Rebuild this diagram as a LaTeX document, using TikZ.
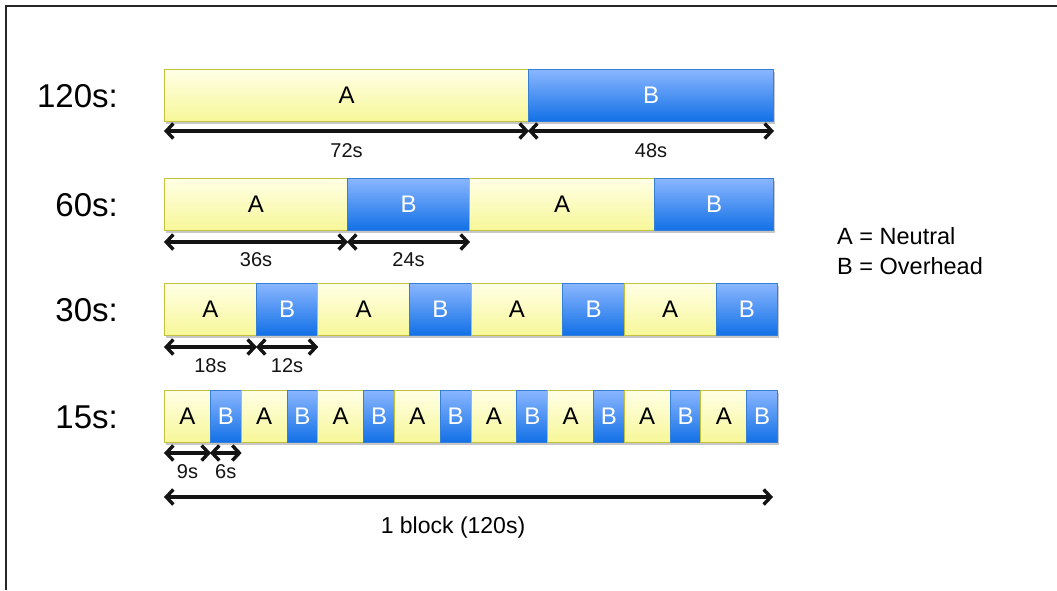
\documentclass[tikz,border=0pt]{standalone}
\usepackage{fontspec}
\setmainfont{Liberation Sans}
\usetikzlibrary{arrows.meta,shadows}
\definecolor{ytop}{HTML}{FFFFE6}
\definecolor{ybot}{HTML}{F7F798}
\definecolor{yedge}{HTML}{C2C23E}
\definecolor{btop}{HTML}{8AB6FF}
\definecolor{bbot}{HTML}{1170E6}
\definecolor{bedge}{HTML}{3580D6}
\newcommand{\mkseg}[6]{%
  \pgfmathsetmacro{\segw}{#4-#3}%
  \node[#2, minimum width=\segw pt, anchor=north west] (#1) at (#3,#5) {#6};}
\begin{document}
\begin{tikzpicture}[x=1pt,y=-1pt,
  seg/.style={rectangle, inner sep=0pt, minimum height=52pt, font=\fontsize{24}{27}\selectfont,
    drop shadow={shadow xshift=1.5pt, shadow yshift=-2pt, opacity=0.22, fill=black}},
  aseg/.style={seg, top color=ytop, bottom color=ybot, draw=yedge, line width=1pt, text=black},
  bseg/.style={seg, top color=btop, bottom color=bbot, draw=bedge, line width=1pt, text=white},
  rowlab/.style={anchor=east, inner sep=0pt, font=\fontsize{33}{37}\selectfont},
  dim/.style={line width=3.4pt, {Straight Barb[length=7pt,width=15pt,line width=3.4pt]}-{Straight Barb[length=7pt,width=15pt,line width=3.4pt]}, black!92},
  dimlab/.style={anchor=base, inner sep=0pt, font=\fontsize{20}{24}\selectfont},
  legend/.style={anchor=west, inner sep=0pt, font=\fontsize{23.5}{28}\selectfont}
]
\useasboundingbox (0,0) rectangle (1057,590);
\fill[white] (0,0) rectangle (1057,590);
\draw[line width=2pt, black!85] (6,590) -- (6,6) -- (1057,6);

% row labels
\node[rowlab] (l120) at (118,96) {120s:};
\node[rowlab] (l60)  at (118,205) {60s:};
\node[rowlab] (l30)  at (118,310) {30s:};
\node[rowlab] (l15)  at (118,417) {15s:};

% 120s row
\mkseg{r1a}{aseg}{164}{528}{69}{A}
\mkseg{r1b}{bseg}{528}{773}{69}{B}

% 60s row
\mkseg{r2a}{aseg}{164}{347}{178}{A}
\mkseg{r2b}{bseg}{347}{469}{178}{B}
\mkseg{r2c}{aseg}{469}{654}{178}{A}
\mkseg{r2d}{bseg}{654}{773}{178}{B}

% 30s row
\foreach \i in {0,...,3}{
  \pgfmathsetmacro{\xa}{164+\i*153.25}
  \pgfmathsetmacro{\xb}{\xa+91.95}
  \pgfmathsetmacro{\xc}{\xa+153.25}
  \mkseg{r3a\i}{aseg}{\xa}{\xb}{283}{A}
  \mkseg{r3b\i}{bseg}{\xb}{\xc}{283}{B}
}

% 15s row
\foreach \i in {0,...,7}{
  \pgfmathsetmacro{\xa}{164+\i*76.625}
  \pgfmathsetmacro{\xb}{\xa+45.975}
  \pgfmathsetmacro{\xc}{\xa+76.625}
  \mkseg{r4a\i}{aseg}{\xa}{\xb}{390}{A}
  \mkseg{r4b\i}{bseg}{\xb}{\xc}{390}{B}
}

% dimension arrows
\draw[dim] ([yshift=-9pt]r1a.south west) -- ([yshift=-9pt]r1a.south east)
  node[dimlab, midway, yshift=-26pt] (d72) {72s};
\draw[dim] ([yshift=-9pt]r1b.south west) -- ([yshift=-9pt]r1b.south east)
  node[dimlab, midway, yshift=-26pt] (d48) {48s};
\draw[dim] ([yshift=-11pt]r2a.south west) -- ([yshift=-11pt]r2a.south east)
  node[dimlab, midway, yshift=-24pt] (d36) {36s};
\draw[dim] ([yshift=-11pt]r2b.south west) -- ([yshift=-11pt]r2b.south east)
  node[dimlab, midway, yshift=-24pt] (d24) {24s};
\draw[dim] ([yshift=-11pt]r3a0.south west) -- ([yshift=-11pt]r3a0.south east)
  node[dimlab, midway, yshift=-25pt] (d18) {18s};
\draw[dim] ([yshift=-11pt]r3b0.south west) -- ([yshift=-11pt]r3b0.south east)
  node[dimlab, midway, yshift=-25pt] (d12) {12s};
\draw[dim] ([yshift=-10pt]r4a0.south west) -- ([yshift=-10pt]r4a0.south east)
  node[dimlab, midway, yshift=-25pt] (d9) {9s};
\draw[dim] ([yshift=-10pt]r4b0.south west) -- ([yshift=-10pt]r4b0.south east)
  node[dimlab, midway, yshift=-25pt] (d6) {6s};

% block arrow
\coordinate (bl) at (164,497);
\coordinate (br) at (773,497);
\draw[dim] (bl) -- (br);
\node[anchor=base, inner sep=0pt, font=\fontsize{23}{26}\selectfont] (blk) at (453,533) {1 block (120s)};

% legend
\node[legend] (legA) at (837,236) {A = Neutral};
\node[legend] (legB) at (837,266) {B = Overhead};
\end{tikzpicture}
\end{document}
